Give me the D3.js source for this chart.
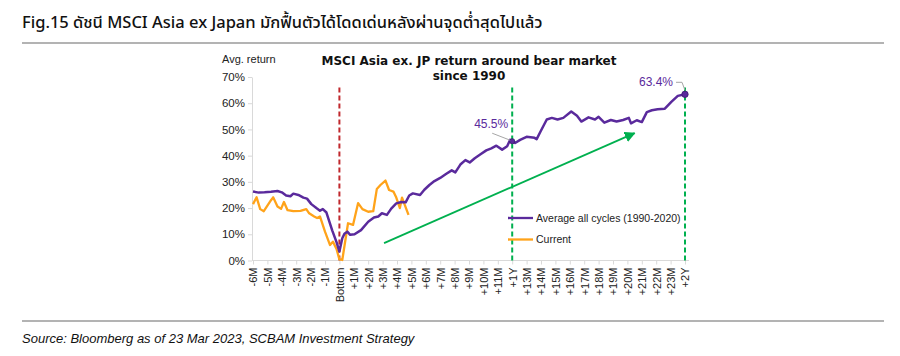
<!DOCTYPE html>
<html>
<head>
<meta charset="utf-8">
<script src="https://cdn.jsdelivr.net/npm/d3@7"></script>
<style>
  html, body { margin: 0; padding: 0; background: #fff; }
  svg { display: block; }
</style>
</head>
<body>
<svg id="chart" width="900" height="356"></svg>
<script>
// ---------------- DATA ----------------
const figTitle = "Fig.15 ดัชนี MSCI Asia ex Japan มักฟื้นตัวได้โดดเด่นหลังผ่านจุดต่ำสุดไปแล้ว";
const chartTitle = ["MSCI Asia ex. JP return around bear market", "since 1990"];
const sourceText = "Source: Bloomberg as of 23 Mar 2023, SCBAM Investment Strategy";
const yAxisTitle = "Avg. return";

// x categories: months relative to bottom (-6 .. +24)
const xLabels = ["-6M","-5M","-4M","-3M","-2M","-1M","Bottom","+1M","+2M","+3M","+4M","+5M","+6M","+7M","+8M","+9M","+10M","+11M","+1Y","+13M","+14M","+15M","+16M","+17M","+18M","+19M","+20M","+21M","+22M","+23M","+2Y"];
const xMonths = xLabels.map((d, i) => i - 6);
const yTicks = [0, 10, 20, 30, 40, 50, 60, 70];

const seriesNames = ["Average all cycles (1990-2020)", "Current"];

// [month offset, return %]
const avgMonths = [-6,-5.6,-5.2,-4.75,-4.3,-4,-3.7,-3.4,-3.2,-2.85,-2.5,-2.25,-1.95,-1.6,-1.35,-1.15,-0.9,-0.5,-0.2,0,0.2,0.35,0.55,0.75,1.05,1.5,2,2.4,2.7,2.95,3.3,3.6,3.95,4.3,4.6,4.85,5.1,5.6,5.9,6.25,6.6,7,7.4,7.8,8.05,8.4,8.75,9.05,9.4,9.8,10.2,10.55,10.9,11.3,11.65,11.85,12,12.2,12.55,13,13.55,13.7,13.95,14.4,14.75,15.15,15.55,16.1,16.5,16.8,17.3,17.75,18,18.4,18.85,19.25,19.7,20.1,20.25,20.65,21,21.35,21.7,22.1,22.6,23.05,23.5,24];
const avgValues = [26.3,25.9,26.0,26.2,26.5,26.0,24.8,24.5,25.5,25.0,24.0,23.6,21.5,20.0,19.0,19.6,18.3,11.5,7.0,3.4,8.5,10.2,11.0,9.8,10.0,11.6,14.8,16.4,16.8,18.0,17.4,19.8,21.8,22.3,22.2,24.8,25.6,25.0,27.0,28.8,30.3,31.5,33.0,34.4,33.6,36.6,38.3,37.4,39.0,40.5,42.0,42.8,43.8,42.3,43.6,46.0,45.5,44.8,46.0,47.2,46.8,46.3,49.0,53.8,54.4,53.8,54.4,56.8,55.2,53.0,54.6,53.8,54.8,52.6,53.6,53.0,53.6,54.4,52.3,53.5,52.8,56.6,57.3,57.7,57.9,60.5,62.8,63.4];

const curMonths = [-6,-5.75,-5.5,-5.25,-4.75,-4.6,-4.3,-4.05,-3.85,-3.6,-3.2,-2.7,-2.3,-2.1,-1.75,-1.55,-1.35,-1.0,-0.65,-0.45,-0.2,0,0.2,0.6,0.95,1.3,1.6,2.0,2.35,2.6,2.85,3.2,3.45,3.75,3.95,4.2,4.35,4.8];
const curValues = [21.5,24.1,19.6,18.8,23.0,24.1,20.6,19.7,22.3,19.2,18.8,18.9,19.6,18.0,16.8,16.2,16.8,11.0,5.9,7.2,4.4,0.4,0.2,14.2,13.6,21.9,19.6,18.6,18.8,27.3,28.8,30.5,26.9,26.3,24.0,20.0,24.0,17.4];

// annotations
const markerMonths = [12, 24];
const markerValues = [45.5, 63.4];
const bottomLineMonth = 0;
const greenLineMonths = [12, 24];
const refLineTop = 66;
const arrowFrom = [3.1, 6.6];
const arrowTo = [20.5, 48.6];

// ---------------- DRAW ----------------
const svg = d3.select("#chart");
const purple = "#5a2a9c";
const orange = "#ffa31a";
const green = "#00b04f";
const red = "#c0282d";
const axisGray = "#d9d9d9";
const txt = "#222";
const thFont = "'Noto Sans', 'Noto Sans Thai', 'Liberation Sans', sans-serif";
const axFont = "'Liberation Sans', Arial, sans-serif";

// figure title + rules
svg.append("text").attr("x", 22).attr("y", 28)
  .attr("font-family", thFont).attr("font-size", 16.5).attr("font-weight", 500)
  .attr("fill", "#111").text(figTitle);
svg.append("line").attr("x1", 22).attr("x2", 884).attr("y1", 43).attr("y2", 43)
  .attr("stroke", "#9a9a9a").attr("stroke-width", 1.5);
svg.append("line").attr("x1", 22).attr("x2", 884).attr("y1", 321).attr("y2", 321)
  .attr("stroke", "#9a9a9a").attr("stroke-width", 1.5);
svg.append("text").attr("x", 22).attr("y", 343)
  .attr("font-family", "'Liberation Sans', Arial, sans-serif").attr("font-size", 13)
  .attr("font-style", "italic").attr("fill", "#111").text(sourceText);

const x = d3.scaleLinear().domain([-6, 24]).range([253, 685]);
const y = d3.scaleLinear().domain([0, 70]).range([260.5, 77]);

// chart title
const ct = svg.append("text").attr("text-anchor", "middle")
  .attr("font-family", "'DejaVu Sans', Verdana, sans-serif").attr("font-weight", "bold")
  .attr("font-size", 12).attr("fill", "#111");
chartTitle.forEach((t, i) => ct.append("tspan").attr("x", 469).attr("y", 65 + i * 15).text(t));

svg.append("text").attr("x", 222).attr("y", 63)
  .attr("font-family", axFont).attr("font-size", 11).attr("fill", txt).text(yAxisTitle);

// y axis
const yAxis = d3.axisLeft(y).tickValues(yTicks).tickFormat(d => d + "%").tickSize(4).tickSizeOuter(0);
const gy = svg.append("g").attr("transform", `translate(${x(-6) - 1},0)`).call(yAxis);
gy.select(".domain").attr("stroke", axisGray);
gy.selectAll(".tick line").attr("stroke", axisGray);
gy.selectAll(".tick text").attr("font-family", axFont).attr("font-size", 11.5).attr("fill", txt).attr("x", -7);

// x axis
const xAxis = d3.axisBottom(x).tickValues(xMonths).tickFormat((d, i) => xLabels[i]).tickSize(4).tickSizeOuter(0);
const gx = svg.append("g").attr("transform", `translate(0,${y(0)})`).call(xAxis);
gx.select(".domain").attr("stroke", axisGray).attr("d", `M${x(-6) - 1},0H${x(24) + 4}`);
gx.selectAll(".tick line").attr("stroke", axisGray);
gx.selectAll(".tick text").attr("font-family", axFont).attr("font-size", 11).attr("fill", txt)
  .attr("transform", "rotate(-90)").attr("text-anchor", "end")
  .attr("x", -7).attr("y", 0).attr("dy", "0.35em");

// reference lines
svg.append("line").attr("x1", x(bottomLineMonth)).attr("x2", x(bottomLineMonth))
  .attr("y1", y(refLineTop)).attr("y2", y(0))
  .attr("stroke", red).attr("stroke-width", 2).attr("stroke-dasharray", "5,3");
greenLineMonths.forEach(m => {
  svg.append("line").attr("x1", x(m)).attr("x2", x(m))
    .attr("y1", y(refLineTop)).attr("y2", y(0))
    .attr("stroke", green).attr("stroke-width", 2).attr("stroke-dasharray", "5,3");
});

// arrow
svg.append("defs").append("marker").attr("id", "arr").attr("viewBox", "0 0 10 10")
  .attr("refX", 9).attr("refY", 5).attr("markerWidth", 6).attr("markerHeight", 6)
  .attr("orient", "auto").attr("markerUnits", "strokeWidth")
  .append("path").attr("d", "M0,0L10,5L0,10z").attr("fill", green);
svg.append("line").attr("x1", x(arrowFrom[0])).attr("y1", y(arrowFrom[1]))
  .attr("x2", x(arrowTo[0])).attr("y2", y(arrowTo[1]))
  .attr("stroke", green).attr("stroke-width", 1.8).attr("marker-end", "url(#arr)");

// lines
const line = d3.line().x(d => x(d[0])).y(d => y(d[1]));
const curData = curMonths.map((m, i) => [m, curValues[i]]);
const avgData = avgMonths.map((m, i) => [m, avgValues[i]]);
svg.append("path").datum(curData).attr("d", line).attr("fill", "none")
  .attr("stroke", orange).attr("stroke-width", 2.3).attr("stroke-linejoin", "round");
svg.append("path").datum(avgData).attr("d", line).attr("fill", "none")
  .attr("stroke", purple).attr("stroke-width", 2.5).attr("stroke-linejoin", "round");

// markers + labels
markerMonths.forEach((m, i) => {
  svg.append("circle").attr("cx", x(m)).attr("cy", y(markerValues[i])).attr("r", i === 1 ? 3.2 : 2.6)
    .attr("fill", purple).attr("stroke", "#3a1a70").attr("stroke-width", 0.8);
});
// 45.5% label with leader
svg.append("line").attr("x1", x(markerMonths[0]) - 20).attr("y1", y(markerValues[0]) - 8)
  .attr("x2", x(markerMonths[0]) - 2).attr("y2", y(markerValues[0]) - 1)
  .attr("stroke", "#a6a6a6").attr("stroke-width", 1);
svg.append("text").attr("x", x(markerMonths[0]) - 21).attr("y", y(markerValues[0]) - 13)
  .attr("text-anchor", "middle").attr("font-family", axFont).attr("font-size", 12)
  .attr("fill", purple).text(markerValues[0].toFixed(1) + "%");
// 63.4% label with leader
svg.append("path").attr("d", `M${x(markerMonths[1]) - 9},${y(markerValues[1]) - 12}H${x(markerMonths[1]) - 3}L${x(markerMonths[1])},${y(markerValues[1]) - 4}`)
  .attr("fill", "none").attr("stroke", "#a6a6a6").attr("stroke-width", 1);
svg.append("text").attr("x", x(markerMonths[1]) - 12).attr("y", y(markerValues[1]) - 8)
  .attr("text-anchor", "end").attr("font-family", axFont).attr("font-size", 12)
  .attr("fill", purple).text(markerValues[1].toFixed(1) + "%");

// legend
const lg = svg.append("g").attr("transform", "translate(508,218)");
[purple, orange].forEach((c, i) => {
  const g = lg.append("g").attr("transform", `translate(0,${i * 21.5})`);
  g.append("line").attr("x1", 0).attr("x2", 25).attr("stroke", c).attr("stroke-width", 2.3);
  g.append("text").attr("x", 28).attr("dy", "0.35em").attr("font-family", axFont)
    .attr("font-size", 10.5).attr("fill", txt).text(seriesNames[i]);
});
</script>
</body>
</html>
